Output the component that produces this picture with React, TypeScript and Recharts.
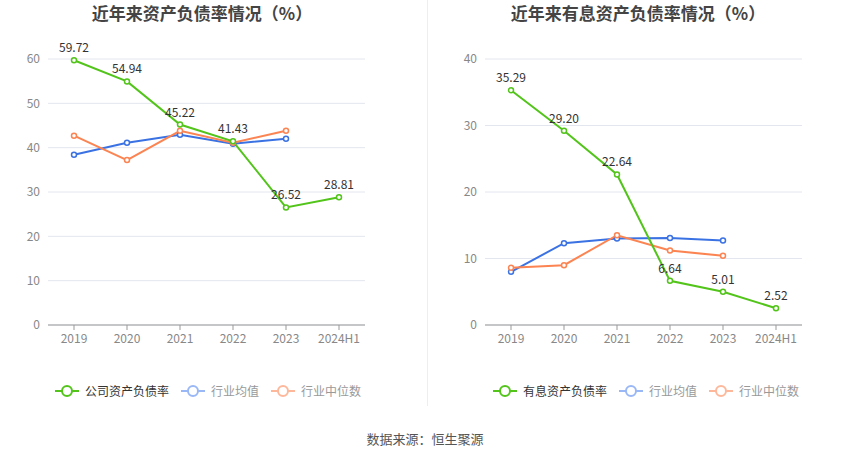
import React from 'react'
import { LineChart, Line, XAxis, YAxis, CartesianGrid, LabelList } from 'recharts'

// categories
const years = ['2019', '2020', '2021', '2022', '2023', '2024H1']

// left chart: 资产负债率
const debtRatio = [59.72, 54.94, 45.22, 41.43, 26.52, 28.81]
const debtIndustryAvg = [38.4, 41.1, 42.9, 40.9, 42.0, null]
const debtIndustryMedian = [42.7, 37.2, 43.8, 41.1, 43.8, null]
const debtTicks = [0, 10, 20, 30, 40, 50, 60]

// right chart: 有息资产负债率
const interestRatio = [35.29, 29.2, 22.64, 6.64, 5.01, 2.52]
const interestIndustryAvg = [8.0, 12.3, 13.0, 13.1, 12.7, null]
const interestIndustryMedian = [8.6, 9.0, 13.5, 11.2, 10.4, null]
const interestTicks = [0, 10, 20, 30, 40]

const GREEN = '#52c41a'
const BLUE = '#3b72e3'
const ORANGE = '#fc8452'
const FONT = '"Noto Sans CJK SC", "Noto Sans", sans-serif'

const buildRows = (main: number[], avg: (number | null)[], median: (number | null)[]) =>
  years.map((name, i) => ({ name, main: main[i], avg: avg[i], median: median[i] }))

interface PanelProps {
  left: number
  title: string
  titleWidth: number
  legendLeft: number
  mainName: string
  rows: any[]
  ticks: number[]
  yWidth: number
  rightMargin: number
}

function LegendIcon({ color }: { color: string }) {
  return (
    <svg width={24} height={14} style={{ verticalAlign: 'middle', marginRight: 6 }}>
      <line x1={0} y1={7} x2={24} y2={7} stroke={color} strokeWidth={2} />
      <circle cx={12} cy={7} r={5} fill="#fff" stroke={color} strokeWidth={2} />
    </svg>
  )
}

function Panel({ left, title, titleWidth, legendLeft, mainName, rows, ticks, yWidth, rightMargin }: PanelProps) {
  const max = ticks[ticks.length - 1]
  return (
    <div style={{ position: 'absolute', left, top: 0, width: 425, height: 459 }}>
      <div
        style={{
          position: 'absolute',
          top: 0,
          left: 0,
          width: titleWidth,
          textAlign: 'center',
          fontSize: 17,
          fontWeight: 'bold',
          color: '#444',
        }}
      >
        {title}
      </div>
      <LineChart
        width={425}
        height={459}
        data={rows}
        margin={{ top: 59, right: rightMargin, left: 0, bottom: 104 }}
      >
        <CartesianGrid vertical={false} stroke="#e3e6ef" />
        <XAxis
          dataKey="name"
          height={30}
          padding={{ left: 26, right: 26 }}
          tick={{ fill: '#888', fontSize: 12 }}
          tickLine={{ stroke: '#999' }}
          axisLine={{ stroke: '#999' }}
          tickSize={5}
          tickMargin={4}
          interval={0}
        />
        <YAxis
          width={yWidth}
          domain={[0, max]}
          ticks={ticks}
          axisLine={false}
          tickLine={false}
          tick={{ fill: '#888', fontSize: 12 }}
        />
        <Line
          dataKey="avg"
          stroke={BLUE}
          strokeWidth={2}
          dot={{ r: 2.5, fill: '#fff', stroke: BLUE, strokeWidth: 1.5 }}
          isAnimationActive={false}
        />
        <Line
          dataKey="median"
          stroke={ORANGE}
          strokeWidth={2}
          dot={{ r: 2.5, fill: '#fff', stroke: ORANGE, strokeWidth: 1.5 }}
          isAnimationActive={false}
        />
        <Line
          dataKey="main"
          stroke={GREEN}
          strokeWidth={2}
          dot={{ r: 2.5, fill: '#fff', stroke: GREEN, strokeWidth: 1.5 }}
          isAnimationActive={false}
        >
          <LabelList
            dataKey="main"
            position="top"
            offset={8}
            fill="#333"
            fontSize={12}
            formatter={(v: any) => Number(v).toFixed(2)}
          />
        </Line>
      </LineChart>
      <div
        style={{
          position: 'absolute',
          top: 382,
          left: legendLeft,
          fontSize: 12,
          whiteSpace: 'nowrap',
          display: 'flex',
          alignItems: 'center',
        }}
      >
        <LegendIcon color={GREEN} />
        <span style={{ color: '#333', marginRight: 12 }}>{mainName}</span>
        <LegendIcon color="#9ab8f5" />
        <span style={{ color: '#999', marginRight: 12 }}>行业均值</span>
        <LegendIcon color="#fdb89b" />
        <span style={{ color: '#999' }}>行业中位数</span>
      </div>
    </div>
  )
}

export default function App() {
  return (
    <div
      style={{
        position: 'absolute',
        left: 0,
        top: 0,
        width: 850,
        height: 459,
        background: '#fff',
        fontFamily: FONT,
        overflow: 'hidden',
      }}
    >
      <Panel
        left={0}
        title="近年来资产负债率情况（%）"
        titleWidth={404}
        legendLeft={55}
        mainName="公司资产负债率"
        rows={buildRows(debtRatio, debtIndustryAvg, debtIndustryMedian)}
        ticks={debtTicks}
        yWidth={48}
        rightMargin={60}
      />
      <div style={{ position: 'absolute', left: 427, top: 0, width: 1, height: 406, background: '#eee' }} />
      <Panel
        left={425}
        title="近年来有息资产负债率情况（%）"
        titleWidth={426}
        legendLeft={68}
        mainName="有息资产负债率"
        rows={buildRows(interestRatio, interestIndustryAvg, interestIndustryMedian)}
        ticks={interestTicks}
        yWidth={60}
        rightMargin={48}
      />
      <div
        style={{
          position: 'absolute',
          top: 429,
          left: 0,
          width: 850,
          textAlign: 'center',
          fontSize: 13,
          color: '#555',
        }}
      >
        数据来源：恒生聚源
      </div>
    </div>
  )
}
